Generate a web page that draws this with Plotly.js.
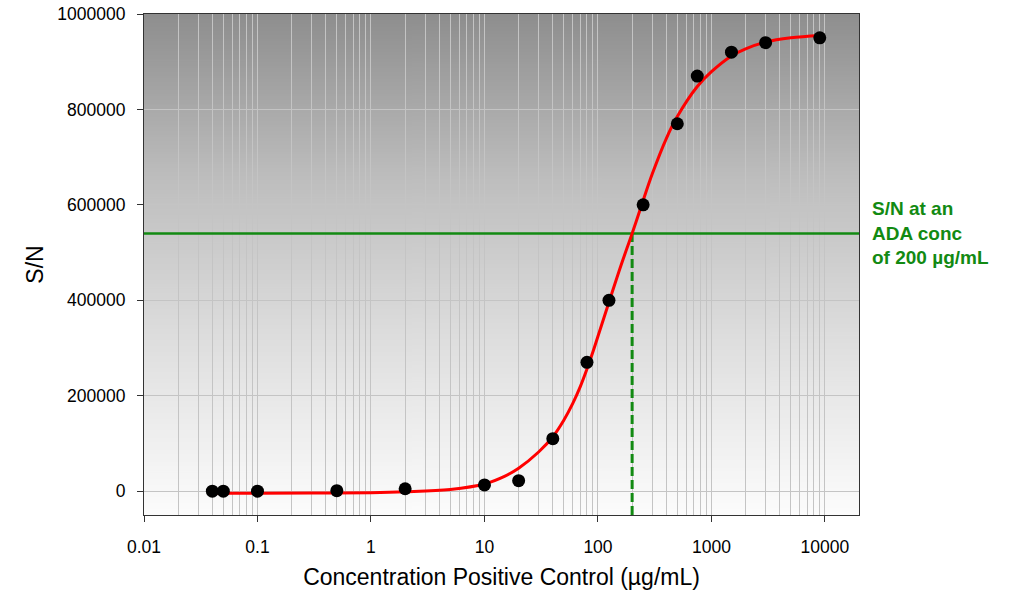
<!DOCTYPE html>
<html>
<head>
<meta charset="utf-8">
<script src="https://cdn.plot.ly/plotly-3.0.1.min.js"></script>
<style>
  html, body { margin: 0; padding: 0; background: #ffffff; }
  #chart { width: 1012px; height: 591px; }
</style>
</head>
<body>
<div id="chart"></div>
<script>
// Measured standards: concentration (µg/mL) and S/N
const concentration = [0.04, 0.05, 0.1, 0.5, 2, 10, 20, 40, 80, 125, 250, 500, 750, 1500, 3000, 9000];
const signalToNoise = [0, 0, 0, 1000, 5000, 13000, 22000, 110000, 270000, 400000, 600000, 770000, 870000, 920000, 940000, 950000];

// Fitted standard curve
const fitConcentration = [0.04, 0.1, 0.3, 1, 2, 5, 10, 15, 20, 30, 40, 50, 60, 70, 80, 90, 100, 125, 160, 200, 250, 300, 400, 500, 750, 1000, 1500, 2000, 3000, 5000, 9000];
const fitSignalToNoise = [-4200, -4200, -3900, -3300, -1500, 3500, 15000, 31000, 48000, 82000, 114000, 148700, 183800, 219500, 255800, 291200, 324500, 396000, 474000, 540000, 609000, 664000, 739000, 785000, 848000, 879000, 912000, 927000, 941000, 950000, 955000];

// Cut point: S/N at the ADA concentration
const adaConcentration = 200;
const cutPointSN = 540000;

// Axis extents and tick labels
const xRangeLog = [-2, 4.3];
const yRange = [-50000, 1000000];
const xTickValues = [0.01, 0.1, 1, 10, 100, 1000, 10000];
const xTickLabels = ["0.01", "0.1", "1", "10", "100", "1000", "10000"];

const FONT = 'Arial, "Liberation Sans", sans-serif';
const GREEN = '#128a12';
const GRID = '#c4c4c4';
const AXIS = '#333333';

// Vertical grey gradient used behind the plotting area
function gradientImage() {
  const c = document.createElement('canvas');
  c.width = 4; c.height = 512;
  const g = c.getContext('2d');
  const grad = g.createLinearGradient(0, 0, 0, c.height);
  grad.addColorStop(0.00, 'rgb(142,142,142)');
  grad.addColorStop(0.33, 'rgb(190,190,190)');
  grad.addColorStop(0.63, 'rgb(220,220,220)');
  grad.addColorStop(0.75, 'rgb(231,231,231)');
  grad.addColorStop(1.00, 'rgb(252,252,252)');
  g.fillStyle = grad;
  g.fillRect(0, 0, c.width, c.height);
  return c.toDataURL('image/png');
}

const traces = [
  {
    // horizontal cut-point line across the full x extent
    x: xRangeLog.map(v => Math.pow(10, v)),
    y: [cutPointSN, cutPointSN],
    mode: 'lines',
    line: { color: GREEN, width: 2.5 },
    hoverinfo: 'skip',
    showlegend: false
  },
  {
    // dashed drop line from the cut point to the x axis
    x: [adaConcentration, adaConcentration],
    y: [yRange[0], cutPointSN],
    mode: 'lines',
    line: { color: GREEN, width: 3, dash: '9px,4px' },
    hoverinfo: 'skip',
    showlegend: false
  },
  {
    x: fitConcentration,
    y: fitSignalToNoise,
    mode: 'lines',
    line: { color: '#ff0000', width: 3, shape: 'spline', smoothing: 1 },
    showlegend: false
  },
  {
    x: concentration,
    y: signalToNoise,
    mode: 'markers',
    marker: { color: '#000000', size: 13 },
    showlegend: false
  }
];

const layout = {
  width: 1012,
  height: 591,
  margin: { l: 144, r: 153, t: 14, b: 76 },
  paper_bgcolor: '#ffffff',
  plot_bgcolor: 'rgba(0,0,0,0)',
  font: { family: FONT, color: '#000000' },
  showlegend: false,
  images: [{
    source: gradientImage(),
    xref: 'paper', yref: 'paper',
    x: 0, y: 1, sizex: 1, sizey: 1,
    xanchor: 'left', yanchor: 'top',
    sizing: 'stretch', layer: 'below'
  }],
  xaxis: {
    type: 'log',
    range: xRangeLog,
    tickmode: 'array',
    tickvals: xTickValues,
    ticktext: xTickLabels,
    ticks: 'outside', ticklen: 6, tickcolor: AXIS, tickwidth: 1,
    ticklabelstandoff: 10,
    tickfont: { size: 17.5, family: FONT, color: '#000' },
    showline: true, linecolor: AXIS, linewidth: 1, mirror: true,
    showgrid: true, gridcolor: GRID, gridwidth: 1,
    minor: { dtick: 'D1', showgrid: true, gridcolor: GRID, gridwidth: 1, ticks: '' },
    zeroline: false,
    title: { text: 'Concentration Positive Control (µg/mL)', font: { size: 23, family: FONT, color: '#000' }, standoff: 12 }
  },
  yaxis: {
    range: yRange,
    tick0: 0, dtick: 200000,
    tickformat: 'd',
    ticks: 'outside', ticklen: 6, tickcolor: AXIS, tickwidth: 1,
    ticklabelstandoff: 8,
    tickfont: { size: 17.5, family: FONT, color: '#000' },
    showline: true, linecolor: AXIS, linewidth: 1, mirror: true,
    showgrid: true, gridcolor: GRID, gridwidth: 1,
    zeroline: false,
    title: { text: 'S/N', font: { size: 23, family: FONT, color: '#000' }, standoff: 7 }
  },
  annotations: [{
    xref: 'paper', yref: 'y',
    x: 1, y: cutPointSN,
    xanchor: 'left', yanchor: 'middle',
    xshift: 11,
    align: 'left',
    showarrow: false,
    text: 'S/N at an<br>ADA conc<br>of 200 µg/mL',
    font: { family: FONT, size: 19, color: GREEN, weight: 'bold' }
  }]
};

Plotly.newPlot('chart', traces, layout, { staticPlot: true, displayModeBar: false });
</script>
</body>
</html>
